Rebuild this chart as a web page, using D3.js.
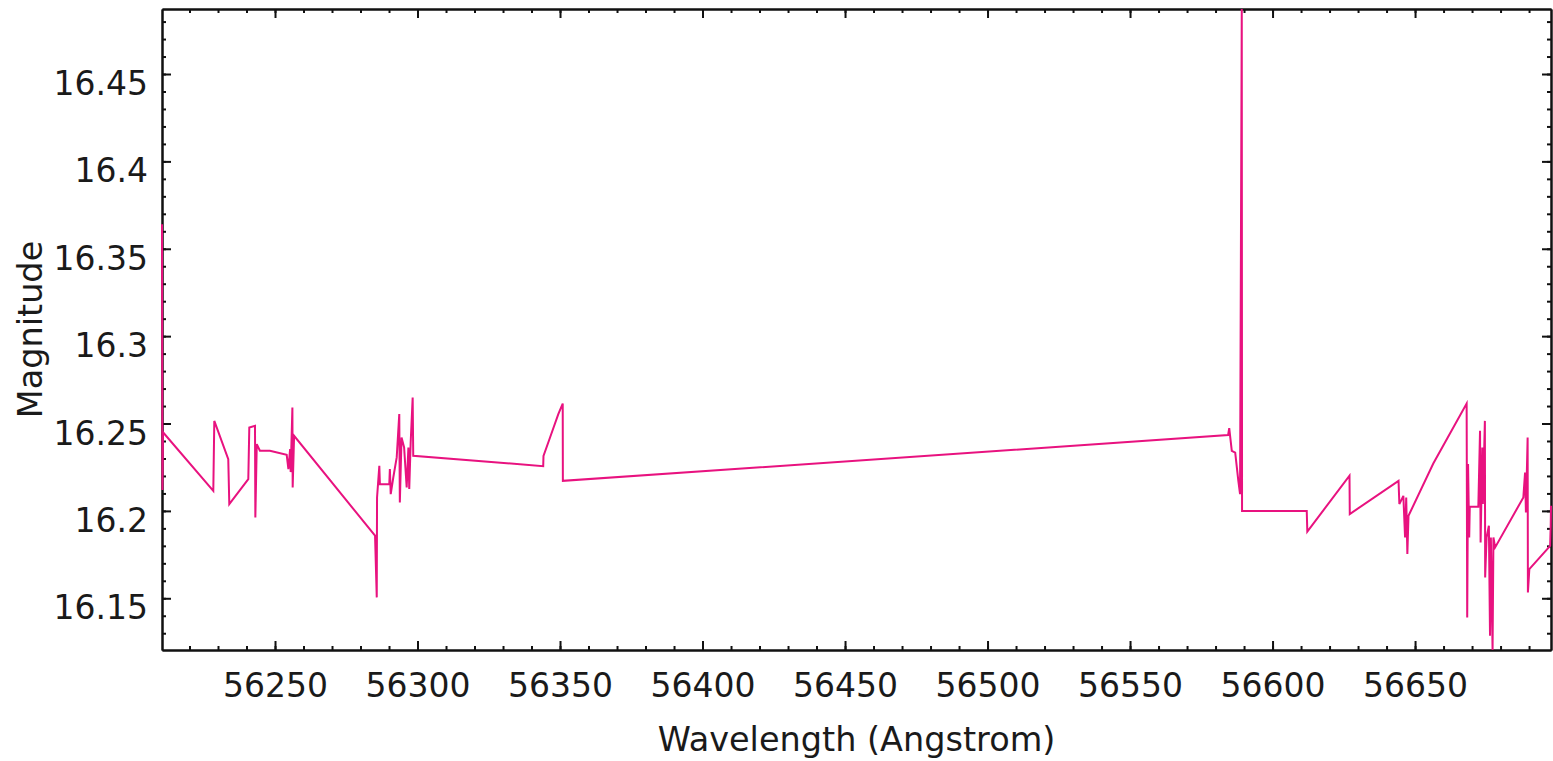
<!DOCTYPE html>
<head>
<meta charset="utf-8">
<style>
body {
  margin: 0;
  background: #fff;
}
svg {
  display: block;
}
.axis text {
  font: 33px "DejaVu Sans", sans-serif;
  fill: #1a1a1a;
}
.axis path, .axis line {
  stroke: #111;
}
.label {
  font: 33.5px "DejaVu Sans", sans-serif;
  fill: #1a1a1a;
}
.spectrum {
  fill: none;
  stroke: #e8127f;
  stroke-width: 2px;
}
</style>
</head>
<body>
<svg width="1553" height="761"></svg>
<script src="https://d3js.org/d3.v7.min.js"></script>
<script>

// spectrum
var wavelength = [
  56210.35, 56210.5, 56210.7, 56228.35, 56228.7, 56233.6, 56233.96, 56240.63, 56240.98, 56242.98,
  56243.1, 56243.6, 56244.7, 56248.2, 56254.1, 56254.7, 56255.3, 56255.5, 56256.1, 56256.2,
  56256.7, 56285.1, 56285.7, 56285.8, 56286.6, 56286.8, 56290.1, 56290.3, 56290.6, 56291.5,
  56292.7, 56293.6, 56293.8, 56294.4, 56295.3, 56296.2, 56296.8, 56297.1, 56297.6, 56298.3,
  56298.5, 56344.1, 56344.2, 56346.5, 56349.4, 56350.95, 56351.0, 56584.4, 56584.8, 56585.7,
  56586.9, 56588.0, 56588.6, 56589.2, 56589.3, 56612.0, 56612.2, 56627.0, 56627.1, 56644.2,
  56644.5, 56645.9, 56646.5, 56646.9, 56647.3, 56647.7, 56656.4, 56668.1, 56668.3, 56668.6,
  56669.0, 56669.2, 56672.2, 56672.8, 56673.0, 56673.6, 56673.8, 56674.5, 56674.6, 56675.1,
  56675.9, 56676.3, 56676.6, 56677.2, 56677.5, 56678.1, 56688.0, 56688.6, 56688.9, 56689.5,
  56689.6, 56690.1, 56697.4, 56697.6, 56697.7
];

var magnitude = [
  16.364, 16.212, 16.245, 16.2115, 16.2515, 16.2296, 16.2039, 16.2182, 16.2477, 16.2487,
  16.1962, 16.2382, 16.2344, 16.2344, 16.2321, 16.2239, 16.2354, 16.2222, 16.2592, 16.2134,
  16.243, 16.1858, 16.1505, 16.2077, 16.2258, 16.2153, 16.2153, 16.2239, 16.2096, 16.2191,
  16.2306, 16.2554, 16.2048, 16.242, 16.2363, 16.2134, 16.2363, 16.2125, 16.2391, 16.2649,
  16.2315, 16.2256, 16.2315, 16.242, 16.2554, 16.2614, 16.2172, 16.2434, 16.2474, 16.2344,
  16.2334, 16.2172, 16.2096, 16.4872, 16.2, 16.2, 16.1882, 16.2201, 16.1982, 16.2172,
  16.2039, 16.2086, 16.1848, 16.2077, 16.1753, 16.1972, 16.2271, 16.2614, 16.139, 16.2268,
  16.1848, 16.2024, 16.2024, 16.2458, 16.1819, 16.2363, 16.2039, 16.2515, 16.1619, 16.1848,
  16.1915, 16.1286, 16.1848, 16.1204, 16.1848, 16.1791, 16.2077, 16.222, 16.1991, 16.242,
  16.1533, 16.1667, 16.18, 16.1915, 16.203
];

var xMajor = [56250, 56300, 56350, 56400, 56450, 56500, 56550, 56600, 56650];
var yMajor = [16.15, 16.2, 16.25, 16.3, 16.35, 16.4, 16.45];

var svg = d3.select("svg"),
    margin = {top: 9, right: 2, bottom: 111, left: 162},
    width = +svg.attr("width") - margin.left - margin.right,
    height = +svg.attr("height") - margin.top - margin.bottom,
    g = svg.append("g").attr("transform", "translate(" + margin.left + "," + margin.top + ")");

var data = wavelength.map(function(w, i) { return {w: w, m: magnitude[i]}; });

// plot autoscales to the data range
var x = d3.scaleLinear()
    .domain(d3.extent(wavelength))
    .range([0, width]);

var y = d3.scaleLinear()
    .domain(d3.extent(magnitude))
    .range([height, 0]);

var xMinor = d3.range(56220, 56700, 10),
    yMinor = d3.range(16130, 16490, 10).map(function(d) { return d / 1000; });

svg.append("defs").append("clipPath").attr("id", "clip")
  .append("rect").attr("x", -1).attr("y", -1).attr("width", width + 2).attr("height", height + 2);

function ticks(axis, vals, size, labels) {
  return axis.tickValues(vals).tickSizeInner(-size).tickSizeOuter(0)
    .tickFormat(labels ? d3.format("") : "");
}

// minor ticks
g.append("g").attr("class", "axis").attr("transform", "translate(0," + height + ")")
    .call(ticks(d3.axisBottom(x), xMinor, 4, false));
g.append("g").attr("class", "axis")
    .call(ticks(d3.axisTop(x), xMinor, 4, false));
g.append("g").attr("class", "axis")
    .call(ticks(d3.axisLeft(y), yMinor, 4, false));
g.append("g").attr("class", "axis").attr("transform", "translate(" + width + ",0)")
    .call(ticks(d3.axisRight(y), yMinor, 4, false));

// major ticks + labels
var bottom = g.append("g").attr("class", "axis").attr("transform", "translate(0," + height + ")")
    .call(ticks(d3.axisBottom(x), xMajor, 9, true));
bottom.selectAll("text").attr("y", 47).attr("dy", 0);

g.append("g").attr("class", "axis")
    .call(ticks(d3.axisTop(x), xMajor, 9, false));

var left = g.append("g").attr("class", "axis")
    .call(ticks(d3.axisLeft(y), yMajor, 9, true));
left.selectAll("text").attr("x", -14).attr("dy", 20.5);

g.append("g").attr("class", "axis").attr("transform", "translate(" + width + ",0)")
    .call(ticks(d3.axisRight(y), yMajor, 9, false));

g.selectAll(".axis line").style("stroke-width", "2px");
g.selectAll(".axis path").style("stroke-width", "2px");

// line drawn over the frame, as in the original
g.append("path")
    .datum(data)
    .attr("class", "spectrum")
    .attr("clip-path", "url(#clip)")
    .attr("d", d3.line().x(function(d) { return x(d.w); }).y(function(d) { return y(d.m); }));

svg.append("text")
    .attr("class", "label")
    .attr("x", margin.left + width / 2)
    .attr("y", 751)
    .attr("text-anchor", "middle")
    .text("Wavelength (Angstrom)");

svg.append("text")
    .attr("class", "label")
    .attr("transform", "translate(42," + (margin.top + height / 2) + ") rotate(-90)")
    .attr("text-anchor", "middle")
    .text("Magnitude");

</script>
</body>
